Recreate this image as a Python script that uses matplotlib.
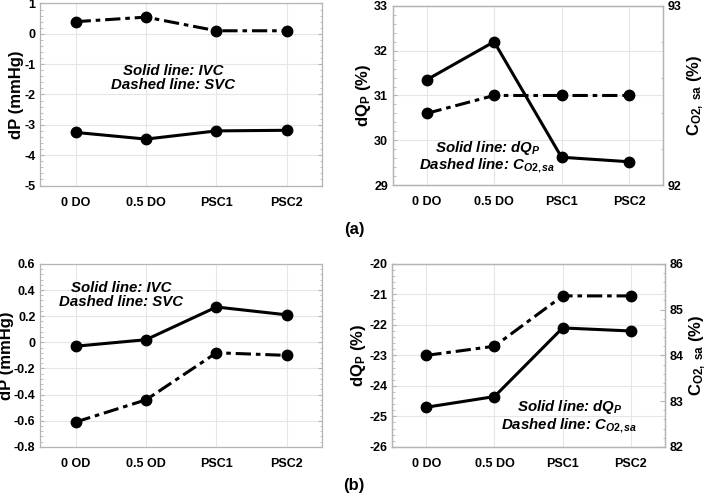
import numpy as np
import matplotlib.pyplot as plt
from matplotlib.ticker import AutoMinorLocator

plt.rcParams['font.family'] = ['Liberation Sans', 'DejaVu Sans']
plt.rcParams['font.weight'] = 'bold'
plt.rcParams['axes.unicode_minus'] = False
plt.rcParams['mathtext.fontset'] = 'custom'
plt.rcParams['mathtext.rm'] = 'Liberation Sans:bold'
plt.rcParams['mathtext.it'] = 'Liberation Sans:bold:italic'
plt.rcParams['mathtext.bf'] = 'Liberation Sans:bold'

# data
cats_a = ['0 DO', '0.5 DO', 'PSC1', 'PSC2']
cats_b_left = ['0 OD', '0.5 OD', 'PSC1', 'PSC2']
cats_b_right = ['0 DO', '0.5 DO', 'PSC1', 'PSC2']

# (a) left: dP
ivc_a = [-3.25, -3.47, -3.2, -3.18]
svc_a = [0.4, 0.55, 0.1, 0.1]
# (a) right: dQp and CO2,sa
dqp_a = [31.35, 32.2, 29.62, 29.52]
co2_a = [92.4, 92.5, 92.5, 92.5]
# (b) left
ivc_b = [-0.03, 0.02, 0.27, 0.21]
svc_b = [-0.61, -0.44, -0.08, -0.10]
# (b) right
dqp_b = [-24.7, -24.35, -22.1, -22.2]
co2_b = [84.0, 84.2, 85.3, 85.3]

spine_c = '#b4b4b4'
grid_c = '#e6e6e6'
dash = (0, (5, 1.6, 1.5, 1.6))
lw = 2.2
ms = 7.5
tick_fs = 9
lab_fs = 12
txt_fs = 10.8

fig = plt.figure(figsize=(7.08, 4.96), dpi=100)


def style(ax, right=True):
    for s in ax.spines.values():
        s.set_color(spine_c)
        s.set_linewidth(0.9)
    ax.grid(True, color=grid_c, linewidth=0.8)
    ax.set_axisbelow(True)
    ax.yaxis.set_minor_locator(AutoMinorLocator(5))
    ax.tick_params(axis='both', which='both', direction='in', color=spine_c,
                   labelsize=tick_fs, right=right, top=False)
    ax.tick_params(axis='x', which='both', length=0, pad=8)
    ax.tick_params(axis='y', which='major', length=3)
    ax.tick_params(axis='y', which='minor', length=1.8)


def left_panel(rect, cats, solid, dashed, ylim, yticks, yfmt, txt_xy):
    ax = fig.add_axes(rect)
    x = np.arange(1, len(cats) + 1)
    ax.plot(x, solid, color='k', lw=lw, marker='o', ms=ms)
    ax.plot(x, dashed, color='k', lw=lw, ls=dash, marker='o', ms=ms)
    ax.set_xlim(0.5, 4.5)
    ax.set_ylim(*ylim)
    ax.set_xticks(x)
    ax.set_xticklabels(cats)
    ax.set_yticks(yticks)
    ax.set_yticklabels([yfmt(v) for v in yticks])
    ax.set_ylabel('dP (mmHg)', fontsize=lab_fs, fontweight='bold', labelpad=0)
    style(ax)
    ax.text(txt_xy[0], txt_xy[1], 'Solid line: IVC\nDashed line: SVC',
            ha='center', va='center', fontsize=txt_fs, fontstyle='italic',
            fontweight='bold', linespacing=1.0)
    return ax


def right_panel(rect, cats, solid, dashed, ylim, yticks, ylim2, yticks2, txt_xy):
    ax = fig.add_axes(rect)
    x = np.arange(1, len(cats) + 1)
    ax.plot(x, solid, color='k', lw=lw, marker='o', ms=ms, zorder=3)
    ax.set_xlim(0.5, 4.5)
    ax.set_ylim(*ylim)
    ax.set_xticks(x)
    ax.set_xticklabels(cats)
    ax.set_yticks(yticks)
    ax.set_ylabel(r'dQ$_\mathregular{P}$ (%)', fontsize=lab_fs, fontweight='bold', labelpad=1)
    style(ax, right=False)
    ax2 = ax.twinx()
    ax2.plot(x, dashed, color='k', lw=lw, ls=dash, marker='o', ms=ms)
    ax2.set_ylim(*ylim2)
    ax2.set_yticks(yticks2)
    ax2.yaxis.set_minor_locator(AutoMinorLocator(5))
    for s in ax2.spines.values():
        s.set_color(spine_c)
        s.set_linewidth(0.9)
    ax2.tick_params(axis='y', which='both', direction='in', color=spine_c, labelsize=tick_fs)
    ax2.tick_params(axis='y', which='minor', length=1.8)
    ax2.set_ylabel(r'C$_\mathregular{O2,\ sa}$ (%)', fontsize=lab_fs, fontweight='bold', labelpad=3)
    ax.text(txt_xy[0], txt_xy[1],
            'Solid line: $dQ_P$\nDashed line: $C_{O2,sa}$',
            ha='center', va='center', fontsize=txt_fs, fontstyle='italic',
            fontweight='bold', linespacing=1.0)
    return ax


def int_fmt(v):
    return '%d' % v


def dec_fmt(v):
    return '0' if abs(v) < 1e-9 else '%.1f' % v


left_panel([0.057, 0.626, 0.398, 0.367], cats_a, ivc_a, svc_a,
           (-5, 1), [-5, -4, -3, -2, -1, 0, 1], int_fmt, (2.39, -1.47))
right_panel([0.555, 0.627, 0.381, 0.361], cats_a, dqp_a, co2_a,
            (29, 33), [29, 30, 31, 32, 33], (92, 93), [92, 93], (1.9, 29.62))
left_panel([0.057, 0.099, 0.398, 0.369], cats_b_left, ivc_b, svc_b,
           (-0.8, 0.6), [-0.8, -0.6, -0.4, -0.2, 0, 0.2, 0.4, 0.6], dec_fmt, (1.65, 0.36))
right_panel([0.554, 0.099, 0.385, 0.369], cats_b_right, dqp_b, co2_b,
            (-26, -20), [-26, -25, -24, -23, -22, -21, -20], (82, 86), [82, 83, 84, 85, 86],
            (3.1, -25.0))

fig.text(0.5, 0.537, '(a)', ha='center', va='center', fontsize=12, fontweight='bold')
fig.text(0.5, 0.022, '(b)', ha='center', va='center', fontsize=12, fontweight='bold')

fig.savefig('out.png', dpi=100)
